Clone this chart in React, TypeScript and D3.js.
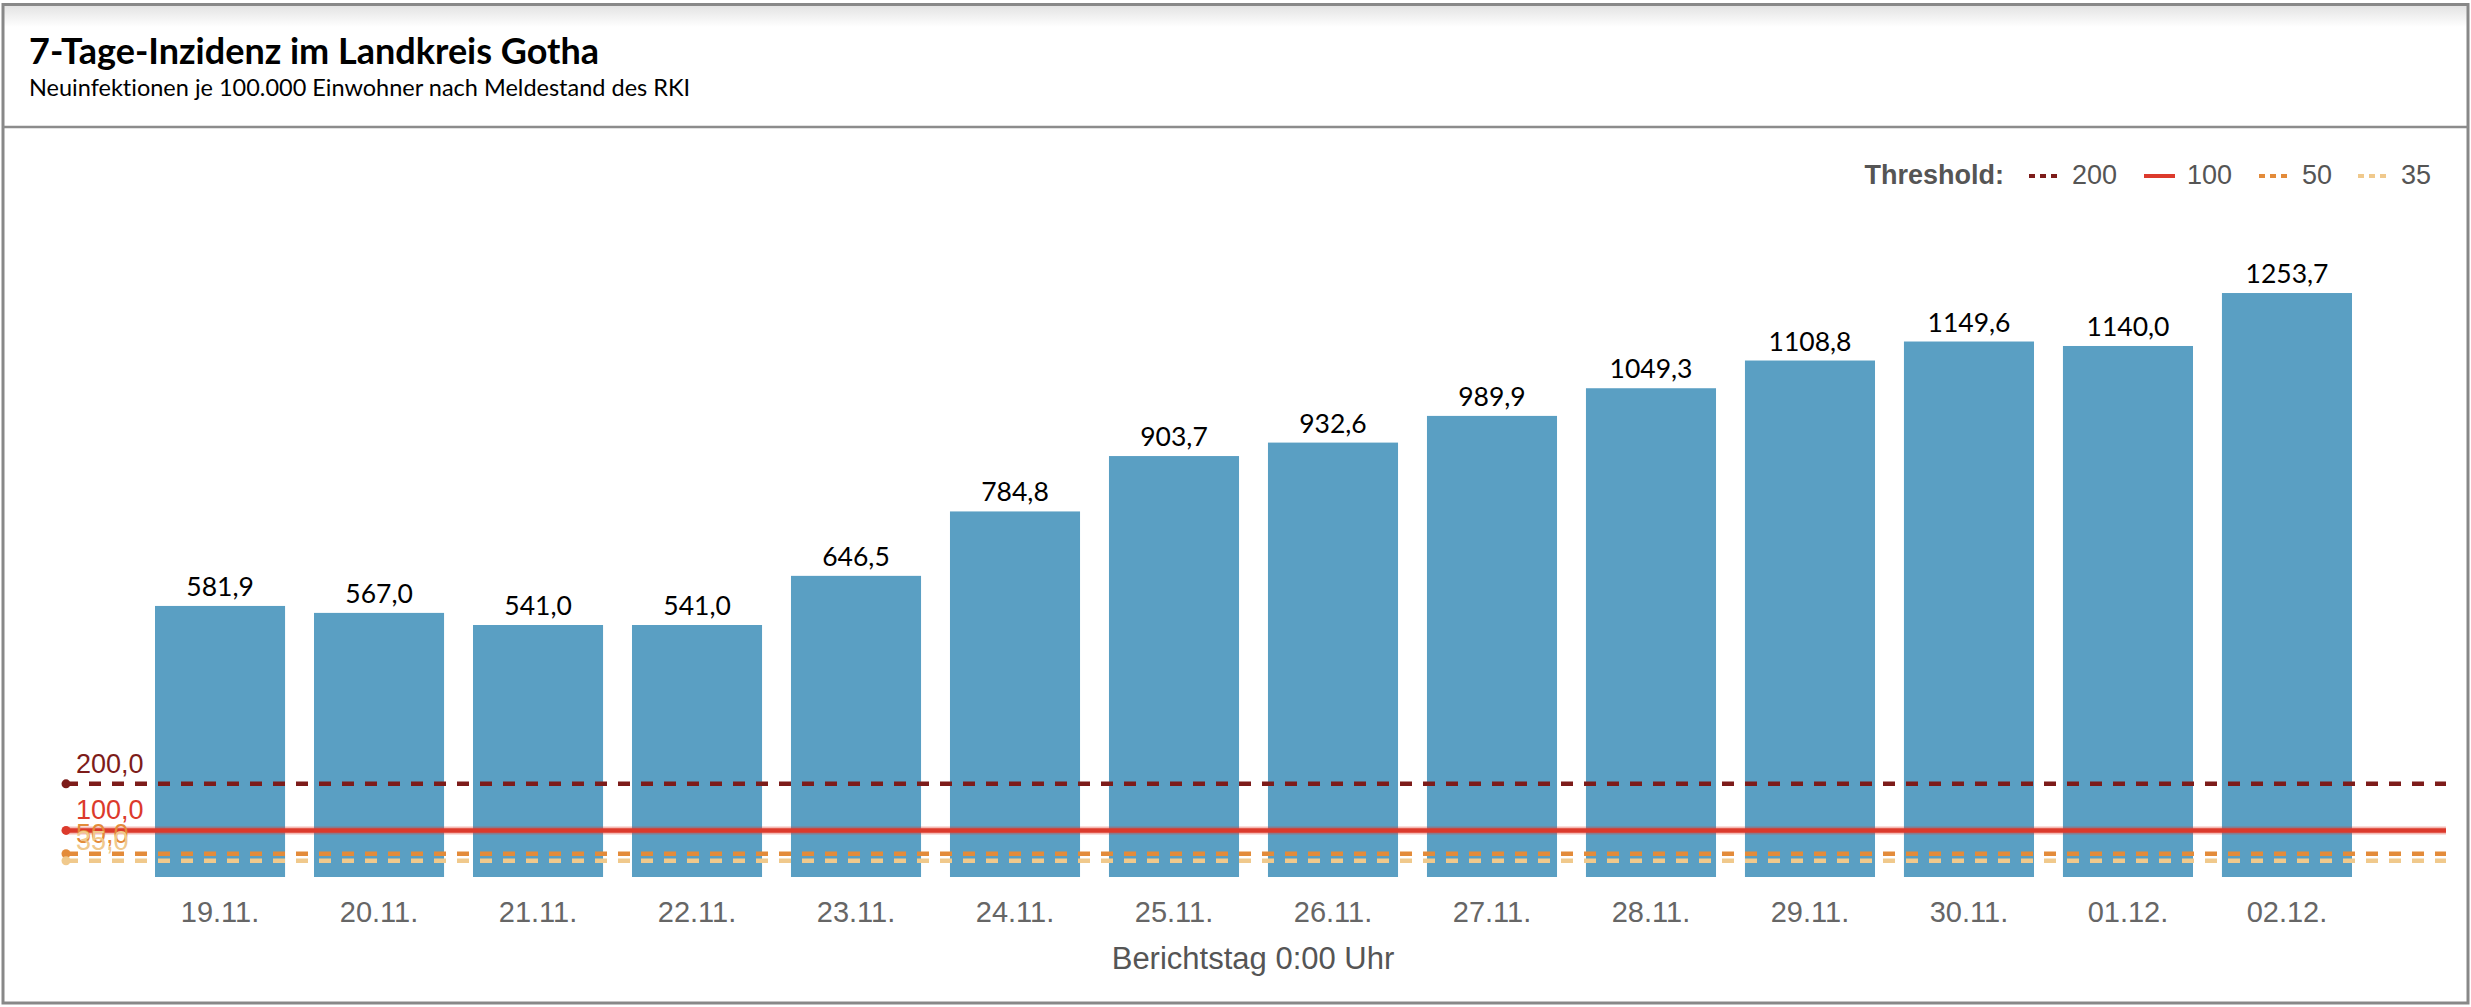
import * as d3 from "d3";

const dates = [
  "19.11.", "20.11.", "21.11.", "22.11.", "23.11.", "24.11.", "25.11.",
  "26.11.", "27.11.", "28.11.", "29.11.", "30.11.", "01.12.", "02.12.",
];
const incidence = [
  581.9, 567.0, 541.0, 541.0, 646.5, 784.8, 903.7,
  932.6, 989.9, 1049.3, 1108.8, 1149.6, 1140.0, 1253.7,
];
const thresholdValues = [200, 100, 50, 35];
const thresholdColors = ["#7d1c1a", "#dc3a2c", "#e38b3a", "#f0c98c"];
const thresholdDashed = [true, false, true, true];

const W = 2471;
const H = 1007;
const plotLeft = 66;
const plotRight = 2446;
const baseY = 877;

const fmt = (v: number) => d3.format(".1f")(v).replace(".", ",");

export default function App() {
  const x = d3.scaleBand<string>().domain(dates).range([155, 2352]).paddingInner(0.182).paddingOuter(0);
  const y = d3.scaleLinear().domain([0, 1300]).range([baseY, baseY - 1300 * 0.4658]);

  const line = d3.line<[number, number]>();

  // legend layout
  const legendX = [2029, 2144, 2259, 2358];

  return (
    <div style={{ position: "absolute", left: 0, top: 0 }}>
      <svg width={W} height={H} style={{ display: "block", fontVariantLigatures: "none" }}>
        <defs>
          <linearGradient id="topShade" x1="0" y1="0" x2="0" y2="1">
            <stop offset="0" stopColor="#e2e2e2" />
            <stop offset="1" stopColor="#ffffff" />
          </linearGradient>
        </defs>
        <rect x={0} y={0} width={W} height={H} fill="#fff" />
        <rect x={4} y={5} width={2463} height={22} fill="url(#topShade)" />
        <rect x={3} y={4.5} width={2465} height={998.5} fill="none" stroke="#888" strokeWidth={3} />
        <line x1={3} x2={2468} y1={127} y2={127} stroke="#8c8c8c" strokeWidth={2.5} />

        <text x={29} y={64} fontFamily="Lato" fontWeight={700} fontSize={36} fill="#000">
          7-Tage-Inzidenz im Landkreis Gotha
        </text>
        <text x={29} y={96} fontFamily="Lato" fontSize={23.5} fill="#000">
          Neuinfektionen je 100.000 Einwohner nach Meldestand des RKI
        </text>

        {/* legend */}
        <text x={2004} y={184} textAnchor="end" fontFamily="Liberation Sans, Arial" fontWeight={700} fontSize={27} fill="#555">
          Threshold:
        </text>
        {thresholdValues.map((v, i) => (
          <g key={v}>
            <line
              x1={legendX[i]}
              x2={legendX[i] + 31}
              y1={176}
              y2={176}
              stroke={thresholdColors[i]}
              strokeWidth={4}
              strokeDasharray={thresholdDashed[i] ? "6,5" : undefined}
            />
            <text x={legendX[i] + 43} y={184} fontFamily="Liberation Sans, Arial" fontSize={27} fill="#555">
              {v}
            </text>
          </g>
        ))}

        {/* bars */}
        {dates.map((d, i) => (
          <g key={d}>
            <rect
              x={x(d)}
              y={y(incidence[i])}
              width={x.bandwidth()}
              height={baseY - y(incidence[i])}
              fill="#5a9fc3"
            />
            <text
              x={(x(d) ?? 0) + x.bandwidth() / 2}
              y={y(incidence[i]) - 10}
              textAnchor="middle"
              fontFamily="Lato"
              fontSize={26.5}
              fill="#000"
            >
              {fmt(incidence[i])}
            </text>
            <text
              x={(x(d) ?? 0) + x.bandwidth() / 2}
              y={922}
              textAnchor="middle"
              fontFamily="Liberation Sans, Arial"
              fontSize={29}
              fill="#666"
            >
              {d}
            </text>
          </g>
        ))}

        {/* threshold lines */}
        {thresholdValues.map((v, i) => (
          <g key={v}>
            {!thresholdDashed[i] && (
              <path
                d={line([[plotLeft, y(v)], [plotRight, y(v)]]) ?? ""}
                stroke={thresholdColors[i]}
                strokeOpacity={0.35}
                strokeWidth={8}
                fill="none"
              />
            )}
            <path
              d={line([[plotLeft, y(v)], [plotRight, y(v)]]) ?? ""}
              stroke={thresholdColors[i]}
              strokeWidth={4.5}
              strokeDasharray={thresholdDashed[i] ? "12,11" : undefined}
              fill="none"
            />
            <circle cx={plotLeft} cy={y(v)} r={4.5} fill={thresholdColors[i]} />
            <text x={76} y={y(v) - 11} fontFamily="Liberation Sans, Arial" fontSize={27} fill={thresholdColors[i]}>
              {fmt(v)}
            </text>
          </g>
        ))}

        <text x={1253} y={969} textAnchor="middle" fontFamily="Liberation Sans, Arial" fontSize={31} fill="#555">
          Berichtstag 0:00 Uhr
        </text>
      </svg>
    </div>
  );
}
